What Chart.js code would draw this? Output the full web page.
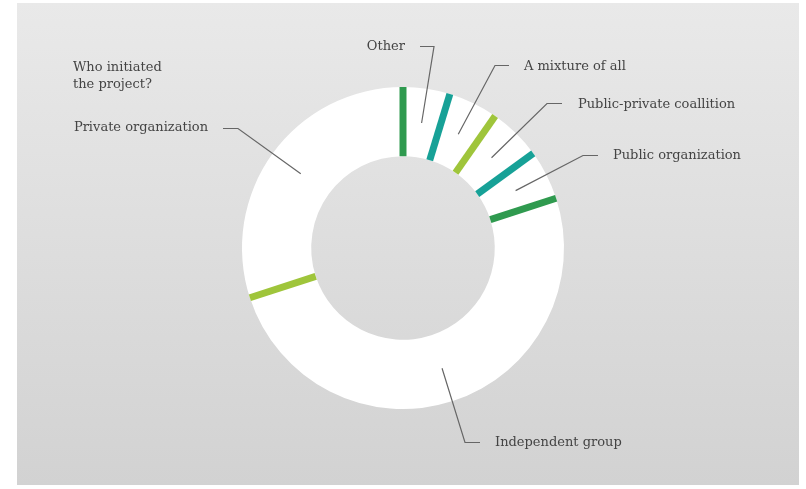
<!DOCTYPE html>
<html>
<head>
<meta charset="utf-8">
<script src="https://cdn.jsdelivr.net/npm/chart.js@4"></script>
<style>
  html, body { margin: 0; padding: 0; background: #ffffff; }
  #wrap { position: relative; width: 806px; height: 489px; }
  #panel {
    position: absolute; left: 17px; top: 3px; width: 782px; height: 482px;
    background: linear-gradient(to bottom, #e9e9e9, #d2d2d2);
  }
  #chart { position: absolute; left: 0; top: 0; }
</style>
</head>
<body>
<div id="wrap">
  <div id="panel"></div>
  <canvas id="chart" width="806" height="489"></canvas>
</div>
<script>
// who initiated the project, share in percent (clockwise from 12 o'clock)
const categories = ["Other", "A mixture of all", "Public-private coallition", "Public organization", "Independent group", "Private organization"]
const shares = [4.7, 5.0, 5.3, 5.0, 50.0, 30.0]
const titleLines = ["Who initiated", "the project?"]

// colour of the divider drawn at the start of each slice
const dividerColors = ["#2f9a4f", "#17a197", "#9fc53b", "#17a197", "#2f9a4f", "#9fc53b"]

// where each leader line bends and where its label sits
const leaderLayout = [
  { elbow: [434, 46], end: [420, 46], text: [405, 47], align: "right" },
  { elbow: [495, 65], end: [509, 65], text: [524, 67], align: "left" },
  { elbow: [547, 103], end: [562, 103], text: [578, 105], align: "left" },
  { elbow: [583, 155], end: [598, 155], text: [613, 156], align: "left" },
  { elbow: [465, 442], end: [480, 442], text: [495, 443], align: "left" },
  { elbow: [238, 128], end: [223, 128], text: [208, 128], align: "right" }
]

const FONT = "13px 'DejaVu Serif'"

const dividers = {
  id: "dividers",
  afterDatasetsDraw(chart) {
    const ctx = chart.ctx
    const arcs = chart.getDatasetMeta(0).data
    ctx.save()
    ctx.lineWidth = 7
    ctx.lineCap = "butt"
    arcs.forEach((arc, i) => {
      const p = arc.getProps(["x", "y", "startAngle", "innerRadius", "outerRadius"], true)
      const c = Math.cos(p.startAngle), s = Math.sin(p.startAngle)
      ctx.strokeStyle = dividerColors[i]
      ctx.beginPath()
      ctx.moveTo(p.x + c * p.innerRadius, p.y + s * p.innerRadius)
      ctx.lineTo(p.x + c * p.outerRadius, p.y + s * p.outerRadius)
      ctx.stroke()
    })
    ctx.restore()
  }
}

const leaders = {
  id: "leaders",
  afterDraw(chart) {
    const ctx = chart.ctx
    const arcs = chart.getDatasetMeta(0).data
    ctx.save()
    ctx.font = FONT
    ctx.textBaseline = "middle"
    arcs.forEach((arc, i) => {
      const p = arc.getProps(["x", "y", "startAngle", "endAngle", "innerRadius", "outerRadius"], true)
      const mid = (p.startAngle + p.endAngle) / 2
      const r = (p.innerRadius + p.outerRadius) / 2
      const lay = leaderLayout[i]
      ctx.strokeStyle = "#666666"
      ctx.lineWidth = 1.2
      ctx.beginPath()
      ctx.moveTo(p.x + Math.cos(mid) * r, p.y + Math.sin(mid) * r)
      ctx.lineTo(lay.elbow[0], lay.elbow[1] + 0.5)
      ctx.lineTo(lay.end[0], lay.end[1] + 0.5)
      ctx.stroke()
      ctx.fillStyle = "#444444"
      ctx.textAlign = lay.align
      ctx.fillText(categories[i], lay.text[0], lay.text[1])
    })
    // question in the top left corner
    ctx.textAlign = "left"
    titleLines.forEach((line, k) => {
      ctx.fillText(line, 73, 68 + k * 17)
    })
    ctx.restore()
  }
}

new Chart(document.getElementById("chart"), {
  type: "doughnut",
  data: {
    labels: categories,
    datasets: [{
      data: shares,
      backgroundColor: "#ffffff",
      borderWidth: 0,
      hoverOffset: 0
    }]
  },
  options: {
    responsive: false,
    animation: false,
    cutout: "57%",
    rotation: 0,
    layout: { padding: { left: 242, right: 242, top: 87, bottom: 80 } },
    plugins: {
      legend: { display: false },
      tooltip: { enabled: false },
      title: { display: false }
    },
    events: []
  },
  plugins: [dividers, leaders]
})
</script>
</body>
</html>
